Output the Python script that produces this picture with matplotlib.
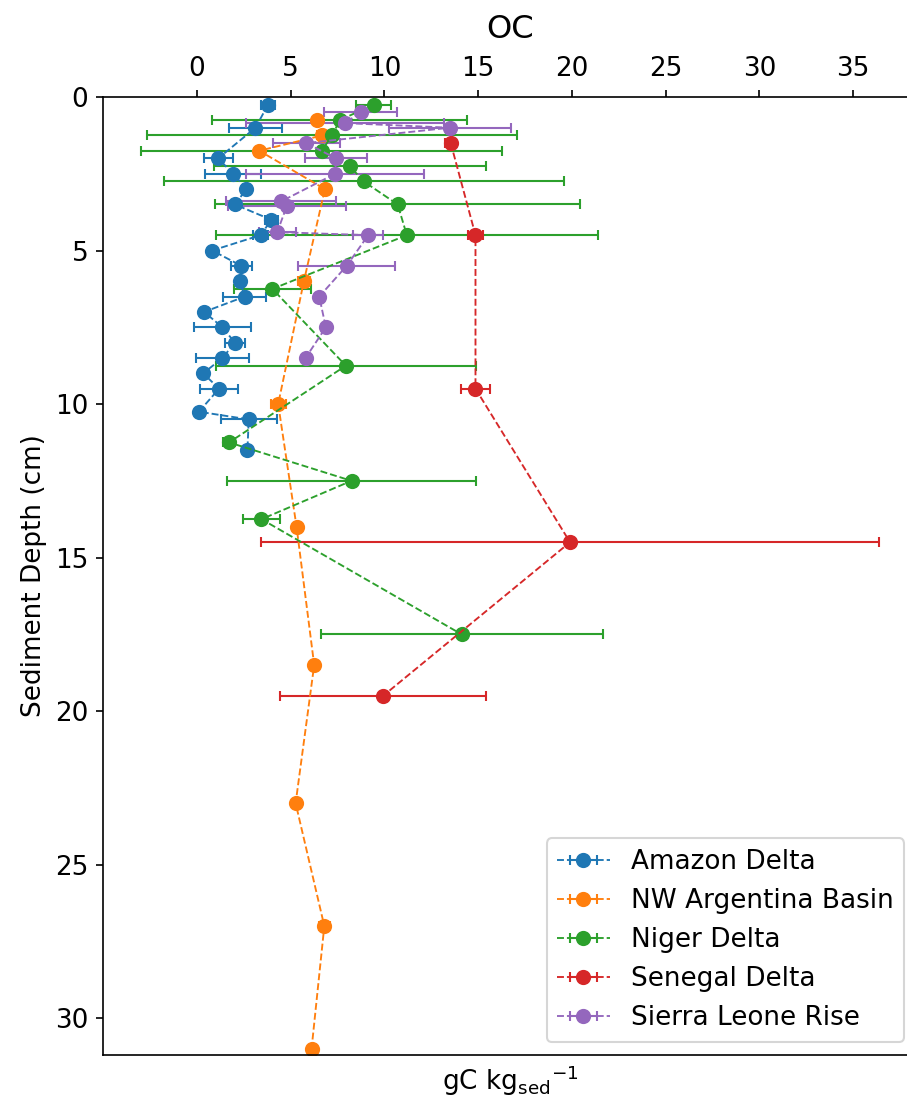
import matplotlib
matplotlib.use("Agg")
import matplotlib.pyplot as plt

# Organic carbon profiles (gC per kg sediment) vs depth (cm)
amazon_depth = [0.25, 1.0, 2.0, 2.5, 3.0, 3.5, 4.0, 4.5, 5.0, 5.5, 6.0, 6.5, 7.0, 7.5,
                8.0, 8.5, 9.0, 9.5, 10.25, 10.5, 11.5]
amazon_oc = [3.8, 3.13, 1.14, 1.94, 2.65, 2.03, 3.98, 3.4, 0.82, 2.38, 2.29, 2.56, 0.39,
             1.37, 2.03, 1.37, 0.34, 1.19, 0.11, 2.77, 2.7]
amazon_err = [0.35, 1.4, 0.78, 1.5, 0.0, 0.0, 0.35, 0.4, 0.0, 0.55, 0.0, 1.15, 0.0,
              1.51, 0.55, 1.4, 0.0, 1.02, 0.0, 1.49, 0.0]

argentina_depth = [0.75, 1.25, 1.75, 3.0, 6.0, 10.0, 14.0, 18.5, 23.0, 27.0, 31.0]
argentina_oc = [6.39, 6.7, 3.33, 6.83, 5.71, 4.34, 5.32, 6.26, 5.27, 6.8, 6.12]
argentina_err = [0.0, 0.3, 0.0, 0.0, 0.3, 0.4, 0.0, 0.0, 0.0, 0.3, 0.0]

niger_depth = [0.25, 0.75, 1.25, 1.75, 2.25, 2.75, 3.5, 4.5, 6.25, 8.75, 11.25, 12.5,
               13.75, 17.5]
niger_oc = [9.44, 7.63, 7.22, 6.66, 8.16, 8.9, 10.71, 11.2, 4.03, 7.95, 1.72, 8.25,
            3.45, 14.12]
niger_err = [0.93, 6.8, 9.87, 9.63, 7.25, 10.67, 9.74, 10.2, 2.05, 6.94, 0.3, 6.63,
             0.99, 7.52]

senegal_depth = [1.5, 4.5, 9.5, 14.5, 19.5]
senegal_oc = [13.54, 14.86, 14.86, 19.9, 9.94]
senegal_err = [0.3, 0.42, 0.79, 16.5, 5.5]

sierra_depth = [0.5, 0.85, 1.0, 1.5, 2.0, 2.5, 3.4, 3.55, 4.4, 4.5, 5.5, 6.5, 7.5, 8.5]
sierra_oc = [8.73, 7.9, 13.5, 5.84, 7.42, 7.38, 4.5, 4.8, 4.29, 9.14, 7.99, 6.53, 6.88, 5.8]
sierra_err = [1.97, 5.26, 3.27, 1.78, 1.66, 4.76, 2.94, 3.13, 0.98, 0.81, 2.59, 0.0, 0.0, 0.0]

sites = [
    ("Amazon Delta", amazon_oc, amazon_depth, amazon_err),
    ("NW Argentina Basin", argentina_oc, argentina_depth, argentina_err),
    ("Niger Delta", niger_oc, niger_depth, niger_err),
    ("Senegal Delta", senegal_oc, senegal_depth, senegal_err),
    ("Sierra Leone Rise", sierra_oc, sierra_depth, sierra_err),
]

plt.rcParams['font.size'] = 12.6

fig = plt.figure(figsize=(907 / 150, 1101 / 150), dpi=150)
ax = fig.add_axes([103 / 907, 1 - 1055 / 1101, 814 / 907, 958 / 1101])

for name, oc, depth, err in sites:
    ax.errorbar(oc, depth, xerr=err, fmt='o--', lw=0.9, elinewidth=1.0,
                capsize=2.6, markersize=6.3, label=name)

ax.set_xlim(-5, 38.4)
ax.set_ylim(31.2, 0)
ax.set_xticks([0, 5, 10, 15, 20, 25, 30, 35])
ax.xaxis.tick_top()
ax.set_title('OC', fontsize=15.5, pad=9)
ax.set_xlabel(r'gC kg$_{\mathrm{sed}}$$^{-1}$')
ax.set_ylabel('Sediment Depth (cm)')
ax.legend(loc='lower right')

fig.savefig('out.png', dpi=150)
